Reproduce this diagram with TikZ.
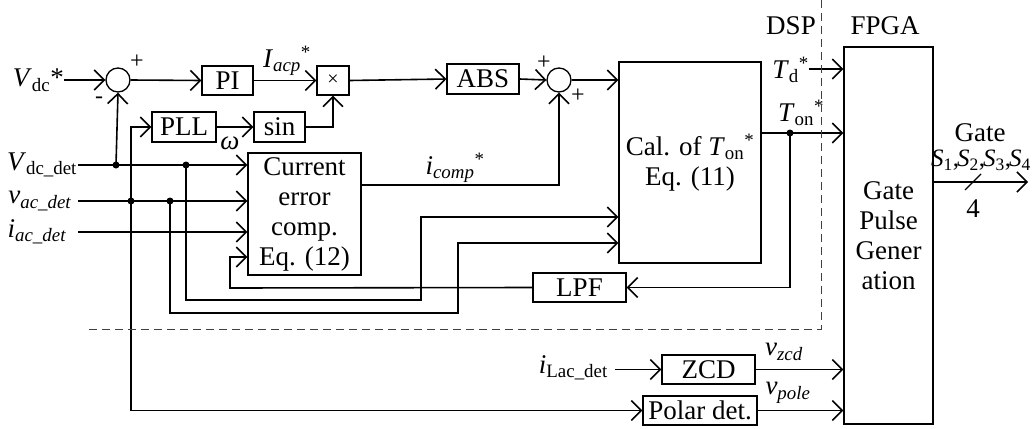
\documentclass[tikz,border=0pt]{standalone}
\usepackage{fontspec}
\setmainfont{Liberation Serif}
\usetikzlibrary{arrows.meta}
\begin{document}
\begin{tikzpicture}[x=1pt,y=-1pt,
  font=\fontsize{27}{30}\selectfont,
  blk/.style={draw,line width=1.1pt,inner sep=0pt,align=center},
  sumc/.style={draw,circle,line width=1.3pt,minimum size=24pt,inner sep=0pt},
  wire/.style={line width=1.6pt},
  arr/.style={wire,-{Straight Barb[length=10pt,width=20pt]}},
  dotn/.style={circle,fill,inner sep=0pt,minimum size=7pt},
  lbl/.style={inner sep=0pt},
  sml/.style={font=\fontsize{24}{26}\selectfont,inner sep=0pt}]
\useasboundingbox (0,0) rectangle (1032,428);

% blocks
\node[sumc] (sum1) at (118,80) {};
\node[blk,minimum width=51pt,minimum height=29pt] (PI) at (227.5,80.5) {PI};
\node[blk,minimum width=32pt,minimum height=29pt,font=\fontsize{20}{22}\selectfont] (mult) at (333,80.5) {×};
\node[blk,minimum width=72pt,minimum height=30pt] (ABS) at (483,79) {ABS};
\node[sumc] (sum2) at (559,80) {};
\node[blk,minimum width=142pt,minimum height=201pt] (cal) at (690,162.5) {Cal. of \textit{T}\textsubscript{on}\textsuperscript{*}\\Eq. (11)};
\node[blk,minimum width=64pt,minimum height=30pt] (PLL) at (184,127) {PLL};
\node[blk,minimum width=51pt,minimum height=30pt] (sin) at (279.5,127) {sin};
\node[blk,minimum width=113pt,minimum height=122pt] (cur) at (304.5,214) {Current\\error\\comp.\\Eq. (12)};
\node[blk,minimum width=93pt,minimum height=29pt] (LPF) at (579.5,287.5) {LPF};
\node[blk,minimum width=93pt,minimum height=29pt] (ZCD) at (708.5,369.5) {ZCD};
\node[blk,minimum width=114pt,minimum height=29pt] (polar) at (700,410.5) {Polar det.};
\node[blk,minimum width=89pt,minimum height=377pt] (fpga) at (888.5,235.5) {Gate\\Pulse\\Gener\\ation};

% labels
\node[lbl,anchor=east] (vdcs) at (64,80) {\textit{V}\textsubscript{dc}*};
\node[lbl] (vdcdet) at (42,165) {\textit{V}\textsubscript{dc\_det}};
\node[lbl] (vacdet) at (40,201) {\textit{v}\textsubscript{\textit{ac\_det}}};
\node[lbl] (iacdet) at (37,232) {\textit{i}\textsubscript{\textit{ac\_det}}};
\node[lbl,anchor=east] (ilac) at (608,368) {\textit{i}\textsubscript{Lac\_det}};
\node[sml] (p1) at (137,62) {+};
\node[sml] (m1) at (99,100) {-};
\node[sml] (p2) at (544,63) {+};
\node[sml] (p3) at (578,96) {+};
\node[lbl] (iacp) at (287,61) {\textit{I}\textsubscript{\textit{acp}}\textsuperscript{*}};
\node[lbl] (omega) at (230,143) {\textit{ω}};
\node[lbl] (icomp) at (455,168) {\textit{i}\textsubscript{\textit{comp}}\textsuperscript{*}};
\node[lbl] (dsp) at (791,26) {DSP};
\node[lbl] (fpgat) at (885,26) {FPGA};
\node[lbl,anchor=east] (td) at (809,70) {\textit{T}\textsubscript{d}\textsuperscript{*}};
\node[lbl] (ton) at (801,113) {\textit{T}\textsubscript{on}\textsuperscript{*}};
\node[lbl] (gate) at (980,133) {Gate};
\node[lbl,font=\fontsize{25}{28}\selectfont] (sss) at (981,160) {\textit{S}\textsubscript{1},\kern-2pt\textit{S}\textsubscript{2},\kern-2pt\textit{S}\textsubscript{3},\kern-2pt\textit{S}\textsubscript{4}};
\node[lbl] (four) at (973,209) {4};
\node[lbl] (vzcd) at (784,352) {\textit{v}\textsubscript{\textit{zcd}}};
\node[lbl] (vpole) at (788,393) {\textit{v}\textsubscript{\textit{pole}}};

% coordinates and dots
\coordinate (vdL) at (78,165);
\coordinate (vaL) at (78,201);
\coordinate (iaL) at (78,232);
\node[dotn] (d1) at (116,165) {};
\node[dotn] (d2) at (186,165) {};
\node[dotn] (d3) at (131,201) {};
\node[dotn] (d4) at (170,201) {};
\node[dotn] (d5) at (790,133) {};
\coordinate (c1) at (421,300);
\coordinate (c1b) at (421,217);
\coordinate (c2) at (458,313);
\coordinate (c2b) at (458,243);
\coordinate (fb) at (230,288);
\coordinate (fb2) at (230,257);
\coordinate (tdL) at (809,69);
\coordinate (ilR) at (615,369.5);
\coordinate (gout) at (1028,182);

% connectors
\draw[arr] (vdcs.east) -- (sum1.west);
\draw[arr] (sum1.east) -- (PI.west);
\draw[arr] (PI.east) -- (mult.west);
\draw[arr] (mult.east) -- (ABS.west);
\draw[arr] (ABS.east) -- (sum2.west);
\draw[arr] (sum2.east) -- (sum2.east -| cal.west);
\draw[arr] (PLL.east) -- (sin.west);
\draw[arr] (sin.east) -| (mult.south);
\draw[arr] (vdL) -- (vdL -| cur.west);
\draw[arr] (vaL) -- (vaL -| cur.west);
\draw[arr] (iaL) -- (iaL -| cur.west);
\draw[arr] (d1.center) -- (sum1.south);
\draw[arr] (d3.center) |- (PLL.west);
\draw[arr] (d3.center) |- (polar.west);
\draw[arr] (d2.center) |- (c1) -- (c1b) -- (c1b -| cal.west);
\draw[arr] (d4.center) |- (c2) -- (c2b) -- (c2b -| cal.west);
\draw[arr] (cur.east |- 0,185) -| (sum2.south);
\draw[arr] (d5 -| cal.east) -- (d5 -| fpga.west);
\draw[arr] (d5.center) |- (LPF.east);
\draw[arr] (LPF.west) -- (fb) -- (fb2) -- (fb2 -| cur.west);
\draw[arr] (tdL) -- (tdL -| fpga.west);
\draw[arr] (fpga.east |- gout) -- (gout);
\draw[line width=1.3pt] (965,190) -- (981,174);
\draw[arr] (ilR) -- (ZCD.west);
\draw[arr] (ZCD.east) -- (ZCD.east -| fpga.west);
\draw[arr] (polar.east) -- (polar.east -| fpga.west);

% DSP boundary
\draw[dashed,line width=0.9pt,dash pattern=on 8pt off 5pt,black!75] (821,0) -- (821,329) -- (87,329);
\end{tikzpicture}
\end{document}
